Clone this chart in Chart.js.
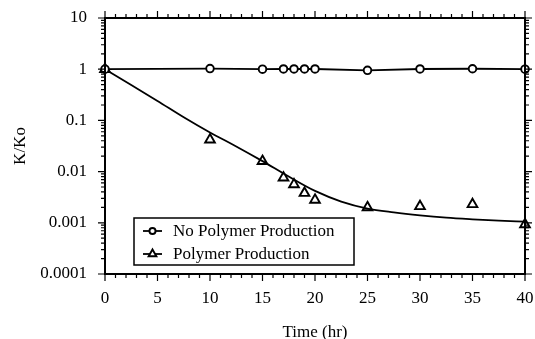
<!DOCTYPE html>
<html>
<head>
<meta charset="utf-8">
<script src="https://cdn.jsdelivr.net/npm/chart.js@4.4.0/dist/chart.umd.min.js"></script>
<style>
  html, body { margin: 0; padding: 0; background: #fff; }
</style>
</head>
<body>
<canvas id="kChart" width="535" height="339"></canvas>
<script>
// data
const timeNoPolymer = [0, 10, 15, 17, 18, 19, 20, 25, 30, 35, 40];
const kNoPolymer = [1, 1.03, 1.0, 1.01, 1.01, 1.01, 1.01, 0.95, 1.01, 1.02, 1.0];
const timePolymer = [0, 10, 15, 17, 18, 19, 20, 25, 30, 35, 40];
const kPolymer = [1, 0.042, 0.016, 0.0076, 0.0056, 0.0038, 0.0028, 0.002, 0.0021, 0.0023, 0.00093];
const timeFit = [0, 2.5, 5, 7.5, 10, 12.5, 15, 17.5, 20, 22.5, 25, 27.5, 30, 32.5, 35, 37.5, 40];
const kFit = [1, 0.49, 0.24, 0.115, 0.058, 0.031, 0.016, 0.008, 0.0042, 0.0026, 0.0019, 0.0016, 0.0014, 0.00126, 0.00117, 0.0011, 0.00105];
const xTickValues = [0, 5, 10, 15, 20, 25, 30, 35, 40];
const yTickValues = [0.0001, 0.001, 0.01, 0.1, 1, 10];
const yTickLabels = ['0.0001', '0.001', '0.01', '0.1', '1', '10'];
const legendLabels = ['No Polymer Production', 'Polymer Production'];

const FONT = 'Liberation Serif';

function pts(xs, ys) {
  return xs.map((t, i) => ({ x: t, y: ys[i] }));
}

function fixBox(s, w, h) {
  if (w) s.width = w;
  if (h) s.height = h;
  s.paddingTop = 0; s.paddingBottom = 0; s.paddingLeft = 0; s.paddingRight = 0;
}

// frame, outward ticks and the boxed legend
const axisBox = {
  id: 'axisBox',
  afterDatasetsDraw(chart) {
    const { ctx, chartArea: a, scales: { x, y } } = chart;
    ctx.save();
    ctx.strokeStyle = '#000';
    ctx.lineWidth = 2;
    ctx.strokeRect(a.left, a.top, a.right - a.left, a.bottom - a.top);

    ctx.lineWidth = 1.2;
    ctx.beginPath();
    for (let t = x.min; t <= x.max; t++) {
      const px = x.getPixelForValue(t);
      const len = t % 5 === 0 ? 7 : 4;
      ctx.moveTo(px, a.bottom); ctx.lineTo(px, a.bottom + len);
      ctx.moveTo(px, a.top); ctx.lineTo(px, a.top - len);
    }
    for (let e = -4; e <= 1; e++) {
      for (let m = 1; m <= 9; m++) {
        const v = m * Math.pow(10, e);
        if (v > y.max * 1.0001) break;
        const py = y.getPixelForValue(v);
        const len = m === 1 ? 7 : 4;
        ctx.moveTo(a.left, py); ctx.lineTo(a.left - len, py);
        ctx.moveTo(a.right, py); ctx.lineTo(a.right + len, py);
      }
    }
    ctx.stroke();

    // legend box
    const bx = 134, by = 218, bw = 220, bh = 47;
    ctx.fillStyle = '#fff';
    ctx.fillRect(bx, by, bw, bh);
    ctx.lineWidth = 1.5;
    ctx.strokeRect(bx, by, bw, bh);
    ctx.font = '17px "' + FONT + '"';
    ctx.textBaseline = 'middle';
    chart.data.datasets.forEach((ds) => {
      if (ds.legendIndex === undefined) return;
      const row = ds.legendIndex;
      const ly = by + 13 + row * 23;
      ctx.lineWidth = 1.8;
      ctx.beginPath();
      ctx.moveTo(bx + 9, ly); ctx.lineTo(bx + 28, ly);
      ctx.stroke();
      ctx.fillStyle = '#fff';
      ctx.lineWidth = ds.pointBorderWidth;
      Chart.helpers.drawPoint(ctx, {
        pointStyle: ds.pointStyle,
        radius: ds.pointRadius * 0.8,
        borderWidth: ds.pointBorderWidth,
        rotation: 0
      }, bx + 18.5, ly);
      ctx.fillStyle = '#000';
      ctx.fillText(legendLabels[row], bx + 39, ly + 1);
    });
    ctx.restore();
  }
};

new Chart(document.getElementById('kChart'), {
  type: 'line',
  data: {
    datasets: [
      {
        label: legendLabels[0],
        legendIndex: 0,
        data: pts(timeNoPolymer, kNoPolymer),
        borderColor: '#000',
        borderWidth: 1.8,
        pointStyle: 'circle',
        pointRadius: 3.8,
        pointBorderWidth: 1.9,
        pointBackgroundColor: '#fff',
        pointBorderColor: '#000',
        backgroundColor: '#fff',
        tension: 0,
        clip: false
      },
      {
        label: 'fit',
        data: pts(timeFit, kFit),
        borderColor: '#000',
        borderWidth: 1.8,
        pointRadius: 0,
        cubicInterpolationMode: 'monotone',
        clip: false
      },
      {
        label: legendLabels[1],
        legendIndex: 1,
        data: pts(timePolymer, kPolymer),
        showLine: false,
        borderColor: '#000',
        pointStyle: 'triangle',
        pointRadius: 5.6,
        pointBorderWidth: 1.9,
        pointBackgroundColor: '#fff',
        pointBorderColor: '#000',
        backgroundColor: '#fff',
        clip: false
      }
    ]
  },
  options: {
    responsive: false,
    animation: false,
    layout: { padding: { top: 18, right: 10, left: 0, bottom: 0 } },
    plugins: {
      legend: { display: false },
      tooltip: { enabled: false }
    },
    scales: {
      x: {
        type: 'linear',
        min: 0,
        max: 40,
        afterFit: (s) => fixBox(s, 0, 65),
        afterBuildTicks: (s) => { s.ticks = xTickValues.map(v => ({ value: v })); },
        grid: { display: false, drawTicks: false },
        border: { display: false },
        ticks: {
          padding: 14,
          color: '#000',
          font: { family: FONT, size: 17 }
        },
        title: {
          display: true,
          text: 'Time (hr)',
          color: '#000',
          font: { family: FONT, size: 17 },
          padding: { top: 0, bottom: -3.5 }
        }
      },
      y: {
        type: 'logarithmic',
        min: 0.0001,
        max: 10,
        afterFit: (s) => fixBox(s, 105, 0),
        afterBuildTicks: (s) => { s.ticks = yTickValues.map(v => ({ value: v })); },
        grid: { display: false, drawTicks: false },
        border: { display: false },
        ticks: {
          padding: 18,
          color: '#000',
          font: { family: FONT, size: 17 },
          callback: (v) => yTickLabels[yTickValues.findIndex(t => Math.abs(Math.log10(t) - Math.log10(v)) < 1e-6)]
        },
        title: {
          display: true,
          text: 'K/Ko',
          color: '#000',
          font: { family: FONT, size: 17 },
          padding: { top: 10, bottom: 0 }
        }
      }
    }
  },
  plugins: [axisBox]
});
</script>
</body>
</html>
